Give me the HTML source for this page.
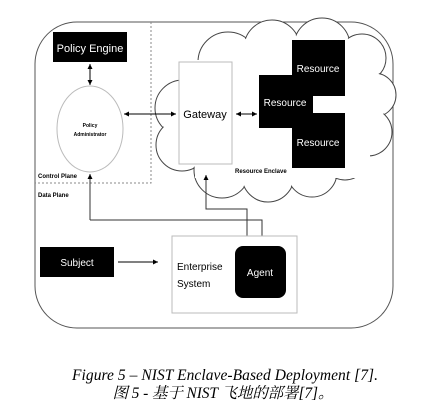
<!DOCTYPE html>
<html><head><style>
body{margin:0;background:#fff;width:433px;height:416px;overflow:hidden}
svg{display:block}
text{font-family:"Liberation Sans",sans-serif}
</style></head><body>
<svg width="433" height="416" viewBox="0 0 433 416">
<defs><marker id="a" markerWidth="6" markerHeight="6" refX="5" refY="3" orient="auto-start-reverse"><path d="M0,0.5 L5,3 L0,5.5z" fill="#000"/></marker></defs>
<rect x="35" y="22" width="358" height="306" rx="42" fill="#fff" stroke="#555" stroke-width="1"/>
<path d="M151,22 V183 H35" fill="none" stroke="#888" stroke-dasharray="2,2"/>
<!-- cloud -->
<g stroke="#444" stroke-width="1" fill="#fff">
<circle cx="183" cy="108" r="28"/><circle cx="182" cy="145" r="26"/>
<circle cx="228" cy="62" r="30"/><circle cx="272" cy="48" r="28"/><circle cx="322" cy="46" r="28"/><circle cx="362" cy="58" r="24"/>
<circle cx="374" cy="95" r="22"/><circle cx="368" cy="132" r="24"/>
<circle cx="222" cy="170" r="28"/><circle cx="268" cy="176" r="26"/><circle cx="312" cy="172" r="25"/><circle cx="345" cy="158" r="22"/>
</g>
<g fill="#fff">
<circle cx="183" cy="108" r="27"/><circle cx="182" cy="145" r="25"/>
<circle cx="228" cy="62" r="29"/><circle cx="272" cy="48" r="27"/><circle cx="322" cy="46" r="27"/><circle cx="362" cy="58" r="23"/>
<circle cx="374" cy="95" r="21"/><circle cx="368" cy="132" r="23"/>
<circle cx="222" cy="170" r="27"/><circle cx="268" cy="176" r="25"/><circle cx="312" cy="172" r="24"/><circle cx="345" cy="158" r="21"/>
<rect x="195" y="60" width="175" height="118"/>
</g>
<rect x="53" y="32" width="74" height="30" fill="#000"/>
<text x="90" y="52" fill="#fff" font-size="11" text-anchor="middle">Policy Engine</text>
<line x1="90" y1="64" x2="90" y2="85" stroke="#000" marker-start="url(#a)" marker-end="url(#a)"/>
<ellipse cx="90" cy="129" rx="33" ry="43" fill="#fff" stroke="#bbb"/>
<text x="90" y="127" font-size="5" text-anchor="middle" font-weight="bold">Policy</text>
<text x="90" y="136" font-size="5" text-anchor="middle" font-weight="bold">Administrator</text>
<text x="38" y="178" font-size="6" font-weight="bold">Control Plane</text>
<text x="38" y="197" font-size="6" font-weight="bold">Data Plane</text>
<line x1="124" y1="114" x2="176" y2="114" stroke="#000" marker-start="url(#a)" marker-end="url(#a)"/>
<rect x="179" y="62" width="53" height="102" fill="#fff" stroke="#bbb"/>
<text x="205" y="118" font-size="11" text-anchor="middle">Gateway</text>
<line x1="236" y1="114" x2="257" y2="114" stroke="#000" marker-start="url(#a)" marker-end="url(#a)"/>
<path d="M292,40 H345 V168 H292 V128 H259 V75 H292z" fill="#000"/>
<rect x="313" y="96" width="32" height="17" fill="#fff"/>
<text x="318" y="72" fill="#fff" font-size="10" text-anchor="middle">Resource</text>
<text x="285" y="106" fill="#fff" font-size="10" text-anchor="middle">Resource</text>
<text x="318" y="146" fill="#fff" font-size="10" text-anchor="middle">Resource</text>
<text x="235" y="173" font-size="6" font-weight="bold">Resource Enclave</text>
<path d="M90,220 V174" fill="none" stroke="#333" marker-end="url(#a)"/>
<path d="M90,220 H262 V244" fill="none" stroke="#333" marker-end="url(#a)"/>
<path d="M206,175 V209 H247 V244" fill="none" stroke="#333" marker-start="url(#a)" marker-end="url(#a)"/>
<rect x="172" y="236" width="125" height="77" fill="#fff" stroke="#bbb"/>
<text x="177" y="270" font-size="10">Enterprise</text>
<text x="177" y="287" font-size="10">System</text>
<rect x="235" y="246" width="51" height="52" rx="8" fill="#000"/>
<text x="260" y="276" fill="#fff" font-size="10" text-anchor="middle">Agent</text>
<rect x="40" y="247" width="74" height="30" fill="#000"/>
<text x="77" y="266" fill="#fff" font-size="10" text-anchor="middle">Subject</text>
<line x1="118" y1="262" x2="158" y2="262" stroke="#000" marker-end="url(#a)"/>
<text x="225" y="380" font-size="15.5" text-anchor="middle" font-style="italic" textLength="306" style='font-family:"Liberation Serif",serif'>Figure 5 – NIST Enclave-Based Deployment [7].</text>
<text x="223" y="398" font-size="15.5" text-anchor="middle" font-style="italic" textLength="221" style='font-family:"Liberation Serif","Noto Serif CJK SC",serif'>图 5 - 基于 NIST 飞地的部署[7]。</text>
</svg>
</body></html>
